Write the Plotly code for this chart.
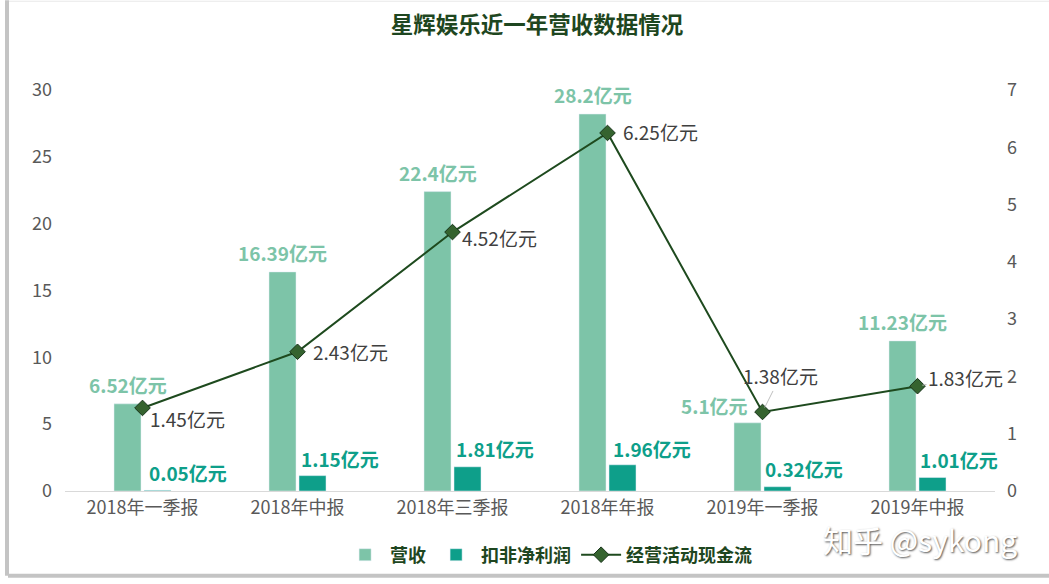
import plotly.graph_objects as go

categories = ["2018年一季报", "2018年中报", "2018年三季报", "2018年年报", "2019年一季报", "2019年中报"]
revenue = [6.52, 16.39, 22.4, 28.2, 5.1, 11.23]
profit = [0.05, 1.15, 1.81, 1.96, 0.32, 1.01]
cashflow = [1.45, 2.43, 4.52, 6.25, 1.38, 1.83]
series_names = ["营收", "扣非净利润", "经营活动现金流"]
title_text = "星辉娱乐近一年营收数据情况"
watermark = "知乎 @sykong"

C_REV = "#7DC4A8"
C_PROF = "#0E9F8A"
C_LINE = "#1E4A1E"
C_TITLE = "#1E4620"
C_TICK = "#595959"
FONT = "Noto Sans CJK SC"

L, R, T, B = 65, 54, 90, 92
W, H = 1049, 584
PW, PH = W - L - R, H - T - B

def px_x(x):
    return (x - L) / PW

def px_y(y):
    return (H - B - y) / PH

fig = go.Figure()
fig.add_trace(go.Bar(x=categories, y=revenue, name=series_names[0], marker_color=C_REV, yaxis="y"))
fig.add_trace(go.Bar(x=categories, y=profit, name=series_names[1], marker_color=C_PROF, yaxis="y"))
fig.add_trace(go.Scatter(
    x=categories, y=cashflow, name=series_names[2], yaxis="y2", mode="lines+markers",
    line=dict(color=C_LINE, width=2),
    marker=dict(symbol="diamond", size=12, color="#35632F", line=dict(color="#17331A", width=1)),
))

annotations = []
# revenue labels
rev_shift = [(-15, 4), (-15, 4), (-15, 4), (-15, 4), (-48, 2), (-15, 4)]
for c, v, (dx, dy) in zip(categories, revenue, rev_shift):
    annotations.append(dict(x=c, y=v, xref="x", yref="y", text=f"{v}亿元", showarrow=False,
                            xanchor="center", yanchor="bottom", xshift=dx, yshift=dy,
                            font=dict(family=FONT, size=19, color=C_REV, weight="bold")))
# profit labels
prof_shift = [(4, 2), (1, 2), (1, 3), (3, 1), (0, 3), (0, 3)]
for c, v, (dx, dy) in zip(categories, profit, prof_shift):
    annotations.append(dict(x=c, y=v, xref="x", yref="y", text=f"{v}亿元", showarrow=False,
                            xanchor="left", yanchor="bottom", xshift=dx, yshift=dy,
                            font=dict(family=FONT, size=19, color=C_PROF, weight="bold")))
# cashflow labels
line_font = dict(family=FONT, size=19, color="#404040")
line_pos = [(5, -11), (13, 0), (7, -5), (13, 1)]
for c, v, (dx, dy) in zip(categories[:4], cashflow[:4], line_pos):
    annotations.append(dict(x=c, y=v, xref="x", yref="y2", text=f"{v}亿元", showarrow=False,
                            xanchor="left", yanchor="middle", xshift=dx, yshift=dy, font=line_font))
for c, v, (ax, ay) in zip(categories[4:], cashflow[4:], [(18, -36), (48, -9)]):
    annotations.append(dict(x=c, y=v, xref="x", yref="y2", text=f"{v}亿元", showarrow=True,
                            ax=ax, ay=ay, xanchor="center", yanchor="middle",
                            arrowhead=0, arrowwidth=1, arrowcolor="#BFBFBF", standoff=5,
                            font=line_font))
# watermark
annotations.append(dict(x=px_x(920), y=px_y(540), xref="paper", yref="paper", text=watermark,
                        showarrow=False, xanchor="center", yanchor="middle",
                        font=dict(family=FONT, size=30, color="#FFFFFF",
                                  shadow="1px 1px 2px #555")))

shapes = [
    dict(type="line", xref="paper", yref="paper", x0=px_x(7), x1=px_x(7), y0=px_y(0), y1=px_y(577),
         line=dict(color="#C4C4C4", width=4)),
    dict(type="line", xref="paper", yref="paper", x0=px_x(8), x1=px_x(1049), y0=px_y(577), y1=px_y(577),
         line=dict(color="#C4C4C4", width=4)),
    dict(type="line", xref="paper", yref="paper", x0=px_x(9), x1=px_x(1049), y0=px_y(1), y1=px_y(1),
         line=dict(color="#E8E8E8", width=1)),
]

fig.update_layout(
    width=W, height=H,
    margin=dict(l=L, r=R, t=T, b=B),
    paper_bgcolor="white", plot_bgcolor="white",
    barmode="group", bargap=0.613, bargroupgap=0.1,
    title=dict(text=title_text, x=0.512, xanchor="center", y=1 - 25 / H, yanchor="middle",
               font=dict(family=FONT, size=22.5, color=C_TITLE, weight="bold")),
    xaxis=dict(showline=True, linecolor="#D9D9D9", linewidth=1, ticks="", showgrid=False,
               range=[-0.5, len(categories) - 0.5], autorange=False,
               automargin=False, tickfont=dict(family=FONT, size=18, color=C_TICK)),
    yaxis=dict(range=[0, 30], dtick=5, showgrid=False, zeroline=False, showline=False,
               automargin=False, ticklabelstandoff=12,
               tickfont=dict(family=FONT, size=18, color=C_TICK)),
    yaxis2=dict(range=[0, 7], dtick=1, overlaying="y", side="right", showgrid=False, zeroline=False,
                showline=False, automargin=False, ticklabelstandoff=11,
                tickfont=dict(family=FONT, size=18, color=C_TICK)),
    legend=dict(orientation="h", x=0.52, xanchor="center", y=px_y(555), yanchor="middle",
                font=dict(family=FONT, size=18, color=C_TITLE, weight="bold"),
                itemwidth=40, traceorder="normal", bgcolor="rgba(0,0,0,0)"),
    annotations=annotations,
    shapes=shapes,
    showlegend=True,
)

fig.write_html("out.html")
